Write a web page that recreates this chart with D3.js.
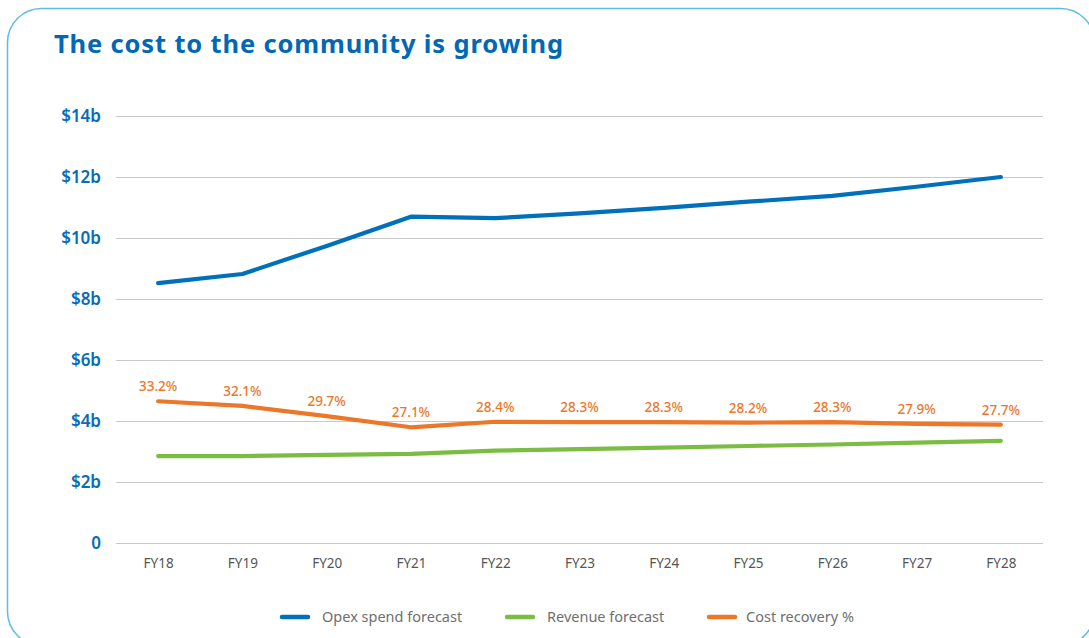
<!DOCTYPE html>
<html>
<head>
<meta charset="utf-8">
<script src="https://cdn.jsdelivr.net/npm/d3@7"></script>
<style>
  body { margin: 0; background: #fff; }
  svg { display: block; font-family: 'Noto Sans', sans-serif; }
</style>
</head>
<body>
<svg></svg>
<script>
/*
*  DATA
*/

let years = ['FY18', 'FY19', 'FY20', 'FY21', 'FY22', 'FY23', 'FY24', 'FY25', 'FY26', 'FY27', 'FY28']
let opex = [8.52, 8.82, 9.74, 10.70, 10.65, 10.81, 10.99, 11.19, 11.38, 11.68, 12.0]
let revenue = [2.85, 2.85, 2.89, 2.92, 3.03, 3.08, 3.13, 3.18, 3.23, 3.29, 3.35]
let recovery = [33.2, 32.1, 29.7, 27.1, 28.4, 28.3, 28.3, 28.2, 28.3, 27.9, 27.7]
let yTicks = [0, 2, 4, 6, 8, 10, 12, 14]
let legendItems = ['Opex spend forecast', 'Revenue forecast', 'Cost recovery %']
let colors = ['#0070ba', '#7abd42', '#ec7729']

/*
*  RUN
*/

let width = 1089,
    height = 638

let svg = d3.select('svg').attr('width', width).attr('height', height)

// card border, runs off the right and bottom edges
svg.append('rect')
  .attr('x', 7.5).attr('y', 8.5)
  .attr('width', 1087).attr('height', 637)
  .attr('rx', 34).attr('ry', 34)
  .attr('fill', 'none')
  .attr('stroke', '#5bbde4')
  .attr('stroke-width', 1.5)

svg.append('text')
  .text('The cost to the community is growing')
  .attr('x', 54).attr('y', 53)
  .attr('fill', '#0068b4')
  .attr('font-size', 25.5)
  .attr('font-weight', 700)
  .attr('letter-spacing', 0.85)

let x = d3.scalePoint().domain(years).range([116, 1043]).padding(0.5)
let y = d3.scaleLinear().domain([0, 14]).range([543, 116])
// cost recovery % is drawn against 0-100 on the same height
let yPct = d3.scaleLinear().domain([0, 100]).range([543, 116])

// gridlines + y labels
let yAxis = svg.append('g')
  .attr('transform', 'translate(116,0)')
  .call(d3.axisLeft(y).tickValues(yTicks).tickSize(-927).tickPadding(15)
    .tickFormat(d => d === 0 ? '0' : `$${d}b`))
  .attr('font-family', null)
yAxis.select('.domain').remove()
yAxis.selectAll('line').attr('stroke', '#c8c8c8').attr('stroke-width', 1)
yAxis.selectAll('text')
  .attr('fill', '#0a6cb5')
  .attr('font-size', 17)
  .attr('font-weight', 600)

let xAxis = svg.append('g')
  .attr('transform', 'translate(0,543)')
  .call(d3.axisBottom(x).tickSize(0).tickPadding(15))
  .attr('font-family', null)
xAxis.select('.domain').remove()
xAxis.selectAll('text').attr('fill', '#555').attr('font-size', 13.5)

let line = d3.line().x((d, i) => x(years[i]))

let series = [
  {vals: opex, scale: y, color: colors[0]},
  {vals: revenue, scale: y, color: colors[1]},
  {vals: recovery, scale: yPct, color: colors[2]}
]

series.forEach(s => {
  svg.append('path')
    .attr('d', line.y(d => s.scale(d))(s.vals))
    .attr('fill', 'none')
    .attr('stroke', s.color)
    .attr('stroke-width', 4.2)
    .attr('stroke-linecap', 'round')
    .attr('stroke-linejoin', 'round')
})

svg.append('g').selectAll('text')
  .data(recovery)
  .enter()
  .append('text')
  .text(d => d + '%')
  .attr('x', (d, i) => x(years[i]))
  .attr('y', d => yPct(d) - 10)
  .attr('text-anchor', 'middle')
  .attr('fill', colors[2])
  .attr('font-size', 13.5)
  .attr('font-weight', 500)

// legend
let legendX = [280, 505, 707]
let lg = svg.append('g').selectAll('g')
  .data(legendItems)
  .enter()
  .append('g')
  .attr('transform', (d, i) => `translate(${legendX[i]},617)`)
lg.append('line')
  .attr('x1', 2).attr('x2', 28)
  .attr('stroke', (d, i) => colors[i])
  .attr('stroke-width', 4.5)
  .attr('stroke-linecap', 'round')
lg.append('text')
  .text(d => d)
  .attr('x', (d, i) => [42, 42, 39][i])
  .attr('dy', '0.35em')
  .attr('fill', '#6f6f6f')
  .attr('font-size', 14.5)
</script>
</body>
</html>
